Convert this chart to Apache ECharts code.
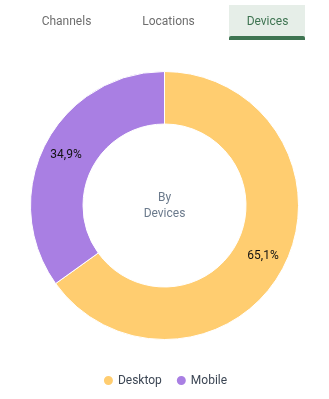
<!DOCTYPE html>
<html><head><meta charset="utf-8">
<script src="https://cdn.jsdelivr.net/npm/echarts@6/dist/echarts.min.js"></script>
<style>html,body{margin:0;padding:0;background:#fff}#c{width:329px;height:399px}</style>
</head><body><div id="c"></div>
<script>
const categories = ['Desktop', 'Mobile'];
const values = [65.1, 34.9];
const colors = ['#ffcd70', '#a97fe3'];
const tabs = ['Channels', 'Locations', 'Devices'];
const centerText = 'By\nDevices';

const chart = echarts.init(document.getElementById('c'));
const tabX = [66.5, 168.5, 267.5];
const graphic = [
  {type:'rect', shape:{x:229,y:5,width:76,height:35}, style:{fill:'#e6eee8'}},
  {type:'rect', shape:{x:229,y:36,width:76,height:4,r:[2,2,0,0]}, style:{fill:'#3e7451'}}
];
tabs.forEach((t,i)=>graphic.push({type:'text', x:tabX[i], y:22, style:{text:t, fill: i===2?'#3e7451':'#6e6e6e', font:'12px Roboto', textAlign:'center', textVerticalAlign:'middle'}}));
graphic.push({type:'text', x:164.5, y:206, style:{text:centerText, fill:'#6b7a8c', font:'12px Roboto', textAlign:'center', textVerticalAlign:'middle', lineHeight:16}});

chart.setOption({
  animation:false,
  color: colors,
  graphic: graphic,
  legend:{
    top: 369, left:'center', icon:'circle', itemWidth:11, itemHeight:11, itemGap:13,
    textStyle:{fontFamily:'Roboto', fontSize:12, color:'#3c4654', padding:[0,0,0,-1]},
    data: categories
  },
  series:[{
    type:'pie',
    center:[164.5,205.5],
    radius:[81.5,134],
    startAngle:90,
    clockwise:true,
    label:{show:true, position:'inside', formatter:p=>String(p.value).replace('.',',')+'%', color:'#111', fontFamily:'Roboto', fontSize:12},
    labelLine:{show:false},
    itemStyle:{borderColor:'#fff', borderWidth:1},
    emphasis:{disabled:true},
    data: categories.map((c,i)=>({name:c, value:values[i]}))
  }]
});
</script></body></html>
